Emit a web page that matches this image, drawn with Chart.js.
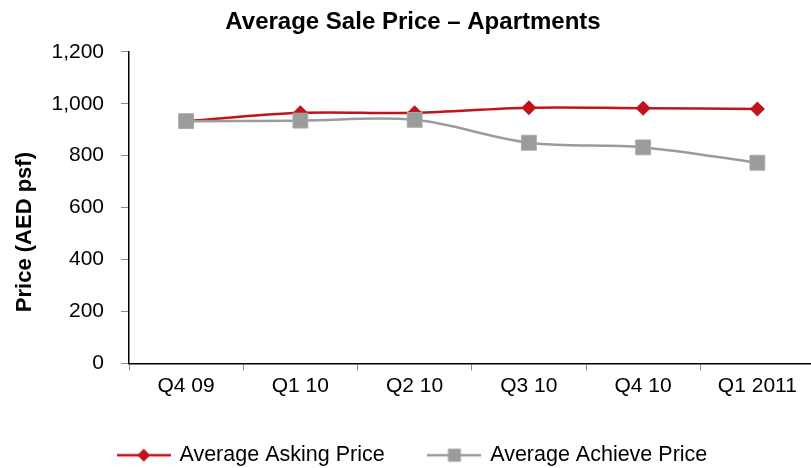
<!DOCTYPE html>
<html lang="en">
<head>
  <meta charset="UTF-8">
  <title>Average Sale Price - Apartments</title>
  <style>
    body {
      margin: 0;
      padding: 0;
      background-color: #fff;
      overflow: hidden;
    }
  </style>
</head>
<body>
  <canvas id="priceChart" width="826" height="468"></canvas>
  <script src="https://cdn.jsdelivr.net/npm/chart.js"></script>
  <script>
    const quarters = ['Q4 09', 'Q1 10', 'Q2 10', 'Q3 10', 'Q4 10', 'Q1 2011'];
    const askingPrice = [933, 965, 965, 985, 983, 980];
    const achievedPrice = [933, 935, 938, 850, 832, 773];
    const seriesNames = ['Average Asking Price', 'Average Achieve Price'];

    const FONT = '"Liberation Sans", Arial, sans-serif';
    const RED = '#c0131c';
    const GREY = '#9a9c9c';

    // little legend symbol: a line with the marker in the middle
    function legendSymbol(color, shape) {
      const c = document.createElement('canvas');
      c.width = 54;
      c.height = 16;
      const g = c.getContext('2d');
      g.strokeStyle = color;
      g.lineWidth = 2.5;
      g.beginPath();
      g.moveTo(0, 8);
      g.lineTo(54, 8);
      g.stroke();
      g.fillStyle = color;
      g.beginPath();
      if (shape === 'diamond') {
        g.moveTo(27, 1.5); g.lineTo(33.5, 8); g.lineTo(27, 14.5); g.lineTo(20.5, 8);
      } else {
        g.rect(20.5, 1.5, 13, 13);
      }
      g.closePath();
      g.fill();
      return c;
    }
    const symbols = [legendSymbol(RED, 'diamond'), legendSymbol(GREY, 'square')];

    new Chart(document.getElementById('priceChart'), {
      type: 'line',
      data: {
        labels: quarters,
        datasets: [{
          label: seriesNames[0],
          data: askingPrice,
          borderColor: RED,
          backgroundColor: RED,
          borderWidth: 2.5,
          pointStyle: 'rectRot',
          pointRadius: 7.5,
          pointBorderWidth: 0,
          tension: 0.35,
          order: 1
        }, {
          label: seriesNames[1],
          data: achievedPrice,
          borderColor: GREY,
          backgroundColor: GREY,
          pointBorderColor: '#a8aaaa',
          borderWidth: 2.5,
          pointStyle: 'rect',
          pointRadius: 10.5,
          pointBorderWidth: 1,
          tension: 0.35,
          order: 0
        }]
      },
      options: {
        responsive: false,
        animation: false,
        layout: { padding: { left: 0, right: 0, top: 0, bottom: -8 } },
        plugins: {
          title: {
            display: true,
            text: 'Average Sale Price – Apartments',
            color: '#000',
            font: { family: FONT, size: 24, weight: 'bold' },
            padding: { top: 8, bottom: 15 }
          },
          legend: {
            position: 'bottom',
            labels: {
              usePointStyle: true,
              pointStyleWidth: 50,
              padding: 3,
              color: '#000',
              font: { family: FONT, size: 21.5 },
              sort: (a, b) => a.datasetIndex - b.datasetIndex,
              generateLabels: chart => chart.data.datasets.map((ds, i) => ({
                text: i === 0 ? ds.label + '       ' : ds.label,
                pointStyle: symbols[i],
                fillStyle: ds.borderColor,
                strokeStyle: ds.borderColor,
                lineWidth: 0,
                fontColor: '#000',
                datasetIndex: i
              }))
            }
          },
          tooltip: { enabled: false }
        },
        scales: {
          x: {
            offset: true,
            grid: {
              offset: true,
              drawOnChartArea: false,
              drawTicks: true,
              tickLength: 7,
              color: '#888'
            },
            border: { display: true, color: '#000', width: 1.5 },
            ticks: {
              color: '#000',
              padding: 3,
              maxRotation: 0,
              font: { family: FONT, size: 21 }
            },
            afterFit: scale => { scale.height = 78; }
          },
          y: {
            min: 0,
            max: 1200,
            ticks: {
              stepSize: 200,
              color: '#000',
              padding: 17,
              font: { family: FONT, size: 21 }
            },
            grid: {
              drawOnChartArea: false,
              drawTicks: true,
              tickLength: 8,
              color: '#888'
            },
            border: { display: true, color: '#000', width: 1.5 },
            title: {
              display: true,
              text: 'Price (AED psf)        ',
              color: '#000',
              font: { family: FONT, size: 22, weight: 'bold' },
              padding: { top: 12, bottom: 0 }
            },
            afterFit: scale => { scale.width = 129; }
          }
        }
      }
    });
  </script>
</body>
</html>
